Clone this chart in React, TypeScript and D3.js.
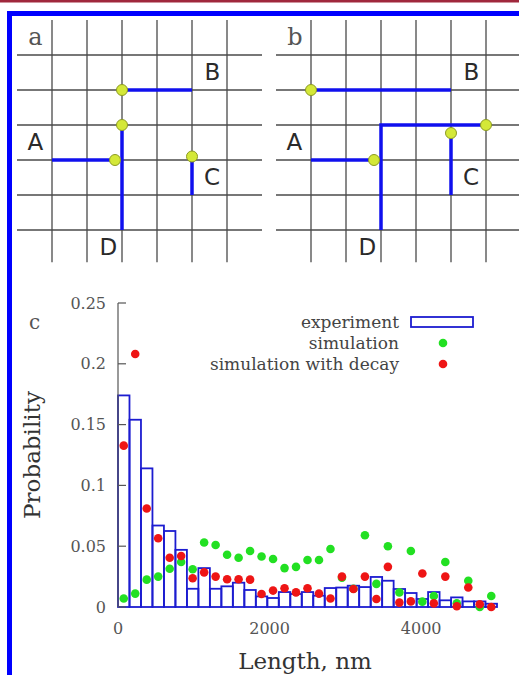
import React from 'react';
import * as d3 from 'd3';

// panel c: length histogram, 33 bins from 0 to 5000 nm
const binWidth = 5000 / 33;
const experiment = [
  0.174, 0.154, 0.114, 0.067, 0.0625, 0.047, 0.015, 0.032, 0.015, 0.017, 0.02,
  0.014, 0.0087, 0.0074, 0.0123, 0.0107, 0.0123, 0.0093, 0.0156, 0.016, 0.0175,
  0.0164, 0.0247, 0.0216, 0.0148, 0.0115, 0.0066, 0.0123, 0.0055, 0.0079, 0.0046,
  0.0046, 0.0027,
];
const simulation = [
  0.007, 0.011, 0.0225, 0.025, 0.0315, 0.037, 0.031, 0.053, 0.051, 0.043, 0.0405,
  0.046, 0.0415, 0.0395, 0.032, 0.033, 0.0386, 0.0386, 0.0477, 0.024, 0.015,
  0.059, 0.019, 0.05, 0.012, 0.046, 0.0044, 0.009, 0.037, 0.003, 0.0216, 0.0,
  0.009,
];
const simulationDecay = [
  0.1327, 0.208, 0.081, 0.0565, 0.0405, 0.042, 0.0236, 0.0285, 0.025, 0.0228,
  0.0228, 0.0225, 0.0107, 0.0135, 0.0154, 0.012, 0.0154, 0.011, 0.007, 0.025,
  0.0148, 0.025, 0.0066, 0.033, 0.0036, 0.0046, 0.0275, 0.003, 0.025, 0.0006,
  0.016, 0.0022, 0.0,
];
const yTicks = [0, 0.05, 0.1, 0.15, 0.2, 0.25];
const xTicks = [0, 2000, 4000];
const legendLabels = ['experiment', 'simulation', 'simulation with decay'];

// panels a and b: lattice diagrams in grid units (col, row)
const gridLines = [0, 1, 2, 3, 4, 5];
const panelA = {
  name: 'a',
  paths: [
    [[2, 1], [4, 1]],
    [[2, 2], [2, 5]],
    [[0, 3], [1.8, 3]],
    [[4, 2.9], [4, 4]],
  ],
  dots: [[2, 1], [2, 2], [1.8, 3], [4, 2.9]],
};
const panelB = {
  name: 'b',
  paths: [
    [[0, 1], [4, 1]],
    [[2, 5], [2, 2], [5, 2]],
    [[0, 3], [1.8, 3]],
    [[4, 2.23], [4, 4]],
  ],
  dots: [[0, 1], [5, 2], [1.8, 3], [4, 2.23]],
};
const chainLabels = [
  { t: 'B', c: 4.36, r: 0.72 },
  { t: 'A', c: -0.7, r: 2.72 },
  { t: 'C', c: 4.34, r: 3.72 },
  { t: 'D', c: 1.36, r: 5.72 },
];

const W = 519;
const H = 675;
const serif = '"DejaVu Serif", serif';
const sans = '"DejaVu Sans", sans-serif';

function Lattice({ panel, x0 }) {
  const gx = d3.scaleLinear().domain([0, 1]).range([x0, x0 + 35]);
  const gy = d3.scaleLinear().domain([0, 1]).range([55, 90]);
  const line = d3.line().x(d => gx(d[0])).y(d => gy(d[1]));
  return (
    <g>
      {gridLines.map(i => (
        <line key={'v' + i} x1={gx(i)} x2={gx(i)} y1={gy(-1)} y2={gy(5.92)} stroke="#4a4a4a" strokeWidth={1.3} />
      ))}
      {gridLines.map(j => (
        <line key={'h' + j} x1={gx(-1)} x2={gx(6)} y1={gy(j)} y2={gy(j)} stroke="#4a4a4a" strokeWidth={1.3} />
      ))}
      {panel.paths.map((p, i) => (
        <path key={'p' + i} d={line(p)} fill="none" stroke="#1010ee" strokeWidth={3.5} />
      ))}
      {panel.dots.map((d, i) => (
        <circle key={'d' + i} cx={gx(d[0])} cy={gy(d[1])} r={5.5} fill="#d4e838" stroke="#8c9a22" strokeWidth={1} />
      ))}
      {chainLabels.map(l => (
        <text key={l.t} x={gx(l.c)} y={gy(l.r)} fontFamily={sans} fontSize={23} fill="#2a2a2a">{l.t}</text>
      ))}
      <text x={gx(-0.68)} y={gy(-0.28)} fontFamily={serif} fontSize={24} fill="#555">{panel.name}</text>
    </g>
  );
}

export default function App() {
  const x = d3.scaleLinear().domain([0, 5000]).range([118, 497]);
  const y = d3.scaleLinear().domain([0, 0.25]).range([607, 303]);
  const center = (i: number) => x(i * binWidth + binWidth / 2);

  return (
    <svg width={W} height={H} style={{ position: 'absolute', left: 0, top: 0, background: '#fff' }}>
      <rect x={0} y={0} width={W} height={2.5} fill="#a0283c" />
      <path d={`M9.5,${H} V13.5 H${W}`} fill="none" stroke="#0000ff" strokeWidth={5} />

      <Lattice panel={panelA} x0={52} />
      <Lattice panel={panelB} x0={311} />

      {/* panel c */}
      <text x={29} y={329} fontFamily={serif} fontSize={20} fill="#555">c</text>
      {experiment.map((v, i) => (
        <rect key={i} x={x(i * binWidth)} y={y(v)} width={x(binWidth) - x(0)} height={y(0) - y(v)}
          fill="none" stroke="#1c1cd0" strokeWidth={1.8} />
      ))}
      {simulation.map((v, i) => (
        <circle key={i} cx={center(i)} cy={y(v)} r={4.3} fill="#22e022" />
      ))}
      {simulationDecay.map((v, i) => (
        <circle key={i} cx={center(i)} cy={y(v)} r={4.3} fill="#ee1515" />
      ))}

      <line x1={x(0)} x2={x(0)} y1={y(0)} y2={y(0.25)} stroke="#555" strokeWidth={1.2} />
      {yTicks.map(t => (
        <g key={t}>
          <line x1={x(0)} x2={x(0) + 8} y1={y(t)} y2={y(t)} stroke="#555" strokeWidth={1.2} />
          <text x={x(0) - 12} y={y(t)} dy="0.35em" textAnchor="end" fontFamily={serif} fontSize={16} fill="#555">
            {d3.format('')(t)}
          </text>
        </g>
      ))}
      {xTicks.map(t => (
        <text key={t} x={x(t)} y={y(0) + 27} textAnchor="middle" fontFamily={serif} fontSize={16} fill="#555">{t}</text>
      ))}
      <text x={305} y={669} textAnchor="middle" fontFamily={serif} fontSize={23} fill="#333">Length, nm</text>
      <text transform={`translate(40,${y(0.125)}) rotate(-90)`} textAnchor="middle" fontFamily={serif} fontSize={23} fill="#333">
        Probability
      </text>

      {/* legend */}
      {legendLabels.map((l, i) => (
        <text key={l} x={399} y={322 + i * 21} dy="0.35em" textAnchor="end" fontFamily={serif} fontSize={17} fill="#444">{l}</text>
      ))}
      <rect x={411} y={317} width={62} height={10} fill="none" stroke="#1c1cd0" strokeWidth={1.8} />
      <circle cx={443} cy={343} r={4.3} fill="#22e022" />
      <circle cx={443} cy={364} r={4.3} fill="#ee1515" />
    </svg>
  );
}
